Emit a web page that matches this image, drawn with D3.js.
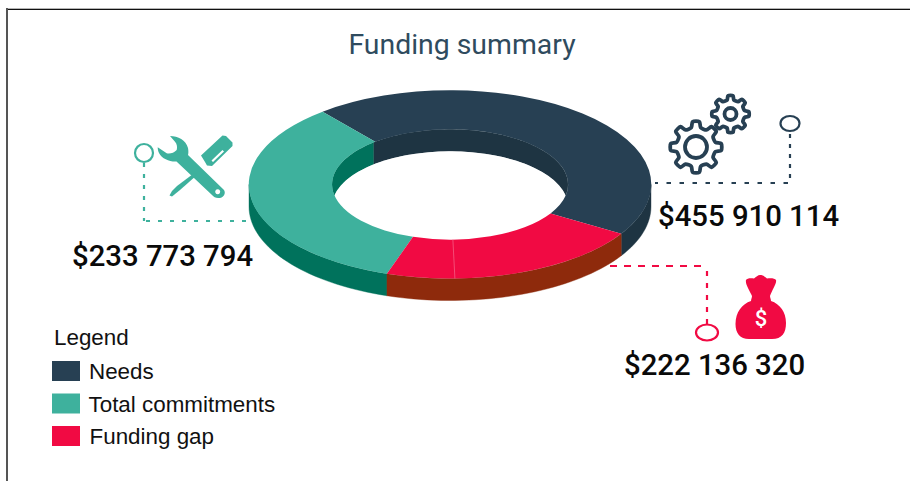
<!DOCTYPE html>
<html><head><meta charset="utf-8">
<script src="https://cdn.jsdelivr.net/npm/d3@7"></script>
<style>html,body{margin:0;padding:0;background:#fff}svg{display:block}</style>
</head><body><div id="c"></div>
<script>
const categories = ["Needs", "Total commitments", "Funding gap"];
const amounts = ["$455 910 114", "$233 773 794", "$222 136 320"];
// share of the ring each slice occupies in the picture (percent)
const ringShares = [44.7, 34.0, 21.3];
const topColors = ["#274053", "#3eb19d", "#f10a43"];
const wallColors = ["#1e3442", "#00725c", "#8e2a0c"];
const W = 910, H = 481;
const cx = 450, cy = 184.5, rx = 201, ry = 94, depth = 22, innerRatio = 0.587;
const rad = Math.PI / 180;
const startDeg = 121.6;

const svg = d3.select("#c").append("svg").attr("width", W).attr("height", H);
svg.append("rect").attr("width", W).attr("height", H).attr("fill", "#fff");
// frame
svg.append("rect").attr("x", 6).attr("y", 8).attr("width", W - 6).attr("height", 1).attr("fill", "#b5b5b5");
svg.append("rect").attr("x", 7).attr("y", 9).attr("width", W - 7).attr("height", 1).attr("fill", "#111");
svg.append("rect").attr("x", 6).attr("y", 8).attr("width", 2).attr("height", H - 8).attr("fill", "#555");

svg.append("text").attr("x", 462).attr("y", 54).attr("text-anchor", "middle")
  .attr("font-family", "Roboto").attr("font-size", 28.4).attr("fill", "#2f4b5e").text("Funding summary");

const pie = d3.pie().sort(null).value(d => d).startAngle(startDeg * rad).endAngle((startDeg - 360) * rad);
const arcs = pie(ringShares);
const px = (a, r) => cx + rx * r * Math.sin(a);
const py = (a, r, dy = 0) => cy - ry * r * Math.cos(a) + dy;
const line = d3.line();
function wall(a0, a1, r) {
  const n = Math.max(2, Math.ceil(Math.abs(a1 - a0) / (rad * 2)));
  const s = d3.range(n + 1).map(i => a0 + (a1 - a0) * i / n);
  return line(s.map(a => [px(a, r), py(a, r)]).concat(s.slice().reverse().map(a => [px(a, r), py(a, r, depth)]))) + "Z";
}
// leaders sit behind the ring
function leader(d, c, dash) {
  svg.append("path").attr("d", d).attr("fill", "none").attr("stroke", c).attr("stroke-width", 2.2).attr("stroke-dasharray", dash);
}
leader("M144 163V221", "#3eb19d", "4 7");
leader("M146 221H249", "#3eb19d", "4 8");
leader("M790 134V183", "#274053", "4 6");
leader("M788 183H655", "#274053", "4.500 8.500");
leader("M707 324V266", "#f10a43", "5 7");
leader("M610 266H707", "#f10a43", "7 7");

// outer walls: only the part facing the viewer (90deg..270deg, any turn)
const g = svg.append("g");
arcs.forEach((d, i) => {
  const hi = Math.max(d.startAngle, d.endAngle), lo = Math.min(d.startAngle, d.endAngle);
  [0, -2 * Math.PI].forEach(shift => {
    const a0 = Math.max(lo, Math.PI / 2 + shift), a1 = Math.min(hi, 3 * Math.PI / 2 + shift);
    if (a1 > a0) g.append("path").attr("d", wall(a0, a1, 1)).attr("fill", wallColors[i]).attr("stroke", wallColors[i]).attr("stroke-width", 0.4);
  });
});
// inner walls, seen through the hole (seam sits a touch left of the top-face boundary)
const seamShift = -1.2 * rad;
arcs.forEach((d, i) => {
  g.append("path").attr("d", wall(d.startAngle + seamShift, d.endAngle + seamShift, innerRatio)).attr("fill", wallColors[i]).attr("stroke", wallColors[i]).attr("stroke-width", 0.4);
});
// floor of the hole
g.append("ellipse").attr("cx", cx).attr("cy", cy + depth).attr("rx", rx * innerRatio).attr("ry", ry * innerRatio).attr("fill", "#fff");
// top face
const arc = d3.arc().innerRadius(innerRatio).outerRadius(1);
g.append("g").attr("transform", `translate(${cx},${cy}) scale(${rx},${ry})`)
  .selectAll("path").data(arcs).join("path").attr("d", arc).attr("fill", (d, i) => topColors[i]);
// faint seam in the red slice
const seam = 178.6 * rad;
g.append("path").attr("d", line([[px(seam, innerRatio), py(seam, innerRatio)], [px(seam, 1), py(seam, 1)]]))
  .attr("stroke", "#f5688c").attr("stroke-width", 0.7).attr("fill", "none");

const ring = (x, y, a, b, c) => svg.append("ellipse").attr("cx", x).attr("cy", y).attr("rx", a).attr("ry", b).attr("fill", "#fff").attr("stroke", c).attr("stroke-width", 2.2);
ring(144, 153, 9, 9, "#3eb19d");
ring(790, 123.5, 9.5, 7.5, "#274053");
ring(707, 332.5, 11, 8, "#f10a43");

// amounts
const amt = (x, y, t) => svg.append("text").attr("x", x).attr("y", y).attr("font-family", "Roboto").attr("font-weight", 500).attr("font-size", 29.3).attr("fill", "#0a0a0a").text(t);
amt(658, 226, amounts[0]);
amt(72, 266, amounts[1]);
amt(624, 375, amounts[2]);

// gears
function gear(x, y, R, r, hole, teeth) {
  const pts = [];
  const step = 2 * Math.PI / teeth;
  for (let i = 0; i < teeth; i++) {
    const a = i * step;
    pts.push([a - step * 0.30, r], [a - step * 0.17, R], [a + step * 0.17, R], [a + step * 0.30, r]);
  }
  const radial = d3.lineRadial().curve(d3.curveCardinalClosed.tension(0.3)).angle(p => p[0]).radius(p => p[1]);
  const t = svg.append("g").attr("transform", `translate(${x},${y})`);
  t.append("path").attr("d", radial(pts)).attr("fill", "none").attr("stroke", "#274053").attr("stroke-width", 3.8);
  t.append("circle").attr("r", hole).attr("fill", "none").attr("stroke", "#274053").attr("stroke-width", 3.8);
}
gear(696, 147, 25.5, 20, 11, 8);
gear(730.5, 114, 18.5, 14.5, 6, 8);

// tools
const tools = svg.append("g").attr("fill", "#3eb19d");
tools.append("path").attr("fill-rule", "evenodd").attr("d", "M170 136C178 136 186 140 188 148C188.500 151 188.500 153 188 155L224 190C226 193 224 197.500 219.500 198C216 198.500 214 197 212 195L176.500 161.500C170 162 162 159 159 153C158 151 157.700 149 157.700 147.300L166.700 153.300C170 154 174 153 176.700 150C177.500 147 177 144 175 141.700Z M217.700 189.200a2.500 2.500 0 1 0 .01 0Z");
tools.append("path").attr("fill-rule", "evenodd").attr("d", "M201 155.500L222.500 135.500L226 136L232.500 142.500L232.500 146L212 166L207 165.500L205 162Z M211.500 160.500L213 162L224 151.500L222.500 150Z");
tools.append("path").attr("d", "M195 172.500L197 175L180 190L172 196.500L169.500 195.500L172 191L177 186Z");

// money bag
const bag = svg.append("g");
bag.append("path").attr("fill", "#f10a43").attr("d", "M760 275C763 275 765 277 767 278.500C770 278 775 278 776 280C777 283 772 290 770 296C770 298 771 299 771 301C780 304 786 312 786 323C786 333 782 339 772 339L749 339C740 339 735.500 333 735.500 324C735.500 312 742 304 751 301C751 299 752 298 752 296C750 291 745 284 746 280C747 278 751 278 754 278.500C756 277 758 275 760 275Z");
bag.append("text").attr("x", 761).attr("y", 326).attr("text-anchor", "middle").attr("font-family", "Roboto").attr("font-weight", 500).attr("font-size", 22).attr("fill", "#fff").text("$");

// legend
const lg = svg.append("g").attr("font-family", "Liberation Sans").attr("font-size", 22.4).attr("fill", "#111");
lg.append("text").attr("x", 54).attr("y", 345).text("Legend");
const lgY = d3.scalePoint().domain(categories).range([361, 426]);
const lgX = [89, 88.5, 89.5];
categories.forEach((c, i) => {
  lg.append("rect").attr("x", 52).attr("y", lgY(c)).attr("width", 28).attr("height", 20).attr("fill", topColors[i]);
  lg.append("text").attr("x", lgX[i]).attr("y", lgY(c) + 18).text(c);
});
</script></body></html>
